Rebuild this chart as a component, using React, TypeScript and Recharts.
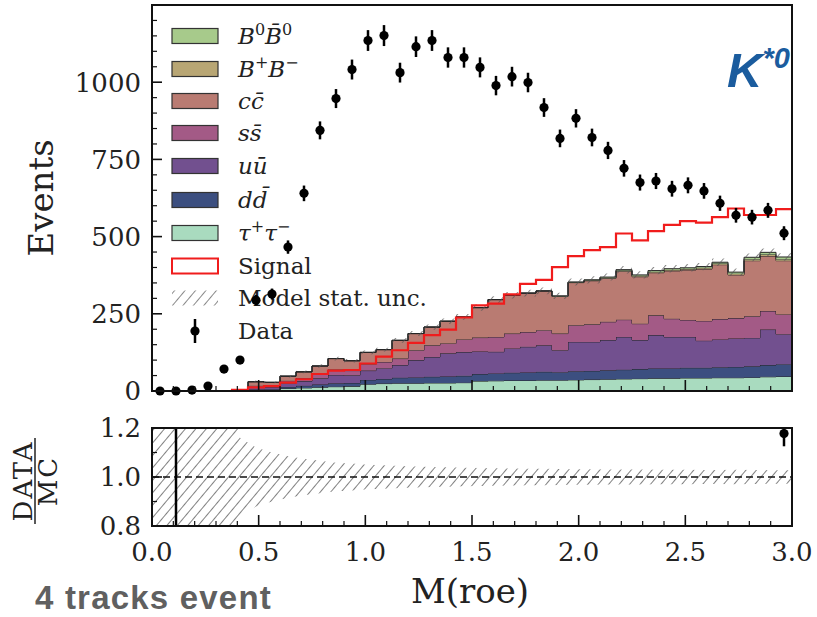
import React from 'react'
import { ComposedChart, Area, Line, Scatter, ErrorBar, XAxis, YAxis, ReferenceLine } from 'recharts'

// 40 bins of 0.075 in M(roe), 0 to 3
const binWidth = 0.075
const nBins = 40

const observed = [
  0, 0, 3, 16, 71, 100, 294, 314, 466, 640,
  844, 947, 1041, 1135, 1151, 1031, 1115, 1135, 1080, 1080,
  1048, 989, 1018, 999, 918, 818, 883, 821, 779, 721,
  675, 680, 655, 666, 648, 608, 569, 563, 585, 511,
]

// MC components, bottom of the stack first
const tauTau = [
  0, 0, 0, 0, 0, 0, 2, 3, 8, 10,
  12, 14, 15, 22, 24, 25, 25, 26, 26, 27,
  32, 33, 34, 34, 35, 35, 36, 37, 38, 39,
  40, 41, 41, 42, 42, 43, 43, 44, 46, 47,
]
const dDbar = [
  0, 0, 0, 0, 0, 0.5, 3, 3, 5, 7,
  9, 11, 11, 14, 15, 18, 19, 20, 21, 22,
  23, 24, 25, 26, 27, 26, 28, 28, 29, 30,
  31, 32, 32, 33, 33, 34, 35, 36, 38, 40,
]
const uUbar = [
  0, 0, 0, 0, 0, 1, 7, 7, 12, 15,
  20, 27, 25, 30, 35, 41, 56, 64, 75, 77,
  73, 70, 79, 83, 86, 71, 95, 94, 98, 106,
  94, 108, 102, 100, 88, 90, 92, 92, 115, 97,
]
const sSbar = [
  0, 0, 0, 0, 0, 0.5, 5, 4, 8, 10,
  13, 18, 15, 20, 20, 21, 32, 38, 32, 41,
  45, 48, 48, 48, 49, 54, 54, 57, 59, 56,
  53, 64, 59, 55, 64, 66, 66, 70, 60, 64,
]
const cCbar = [
  0, 0.3, 0, 0, 0, 1, 13, 11, 15, 20,
  27, 35, 32, 39, 40, 59, 54, 59, 72, 73,
  97, 121, 124, 126, 127, 120, 138, 141, 141, 157,
  152, 138, 155, 162, 168, 176, 140, 180, 178, 174,
]
const bCharged = [
  0, 0, 0, 0, 0, 0, 0, 0, 0, 0,
  0, 0, 0, 0, 0, 0, 0, 0, 0, 0,
  0, 0, 0, 0, 0, 1, 1, 2, 2, 2,
  3, 3, 3, 3, 4, 4, 4, 5, 5, 5,
]
const bNeutral = [
  0, 0, 0, 0, 0, 0, 0, 0, 0, 0,
  0, 0, 0, 0, 0, 0, 0, 0, 0, 0,
  0, 0, 0, 0, 0, 1, 1, 1, 2, 3,
  3, 4, 4, 4, 4, 4, 5, 6, 7, 7,
]
const signal = [
  0, 0, 0, 0, 0, 4, 12, 16, 27, 38,
  55, 66, 68, 89, 111, 132, 156, 181, 199, 238,
  277, 283, 313, 347, 360, 401, 437, 456, 466, 510,
  488, 518, 538, 550, 545, 563, 591, 570, 570, 589,
]
// relative MC statistical uncertainty per bin (1 = unconstrained)
const relStatUnc = [
  1, 1, 1, 1, 1, 0.16, 0.12, 0.1, 0.085, 0.074,
  0.066, 0.058, 0.055, 0.05, 0.048, 0.045, 0.043, 0.041, 0.04, 0.038,
  0.037, 0.036, 0.035, 0.034, 0.034, 0.033, 0.032, 0.032, 0.031, 0.031,
  0.031, 0.03, 0.03, 0.03, 0.029, 0.029, 0.03, 0.029, 0.028, 0.028,
]

const yTicksTop = Array.from({ length: 26 }, (_, i) => i * 50)
const xTicks = Array.from({ length: 31 }, (_, i) => i / 10)
const yTicksRatio = [0.8, 0.9, 1.0, 1.1, 1.2]
const ratioRange = [0.8, 1.2]

const components = [
  { key: 'tau', name: 'τ+τ−', values: tauTau, color: '#a9dbbf' },
  { key: 'dd', name: 'dd̄', values: dDbar, color: '#3c4f80' },
  { key: 'uu', name: 'uū', values: uUbar, color: '#72508f' },
  { key: 'ss', name: 'ss̄', values: sSbar, color: '#a35a86' },
  { key: 'cc', name: 'cc̄', values: cCbar, color: '#b97b72' },
  { key: 'bp', name: 'B+B−', values: bCharged, color: '#b8a674' },
  { key: 'b0', name: 'B0B̄0', values: bNeutral, color: '#a7ca8b' },
]

const mcTotal = observed.map((_, i) => components.reduce((s, c) => s + c.values[i], 0))
const centers = observed.map((_, i) => (i + 0.5) * binWidth)

// one row per bin edge; the last edge repeats the last bin for stepAfter
const histRows = Array.from({ length: nBins + 1 }, (_, k) => {
  const i = Math.min(k, nBins - 1)
  const row: Record<string, any> = { x: k * binWidth, signal: signal[i] }
  components.forEach((c) => { row[c.key] = c.values[i] })
  row.band = [mcTotal[i] * (1 - relStatUnc[i]), mcTotal[i] * (1 + relStatUnc[i])]
  return row
})

const dataPts = observed.map((n, i) => ({
  x: centers[i],
  y: n,
  err: [Math.sqrt(n), n > 0 ? Math.sqrt(n) : 1],
}))

const ratioRows = [0, ...centers, nBins * binWidth].map((x, k) => {
  const i = Math.max(0, Math.min(nBins - 1, k - 1))
  return { x, band: [1 - relStatUnc[i], 1 + relStatUnc[i]] }
})

// data/MC, with the error bars cut to the visible ratio range
const ratioVals = observed.flatMap((n, i) => {
  const t = mcTotal[i]
  if (!(t > 0)) return []
  const r = n / t
  const lo = Math.max(r - Math.sqrt(n) / t, ratioRange[0])
  const hi = Math.min(r + (n > 0 ? Math.sqrt(n) : 1) / t, ratioRange[1])
  if (lo > hi) return []
  return [{ x: centers[i], r, lo, hi }]
})
const ratioBars = ratioVals.map((p) => ({ x: p.x, mid: (p.lo + p.hi) / 2, err: (p.hi - p.lo) / 2 }))
const ratioDots = ratioVals.filter((p) => p.r >= ratioRange[0] && p.r <= ratioRange[1])

const SERIF = 'DejaVu Serif'
const near = (a: number, b: number) => Math.abs(a - b) < 1e-6

const makeYTick = (isMajor: (v: number) => boolean, hasLabel: (v: number) => boolean, fmt: (v: number) => string) => (props: any) => {
  const { x, y, payload } = props
  const v = payload.value
  const major = isMajor(v)
  return (
    <g>
      <line x1={x} x2={x + (major ? 10 : 5)} y1={y} y2={y} stroke="#111" strokeWidth={major ? 1.6 : 1.2} />
      {hasLabel(v) && (
        <text x={x - 11} y={y} dy="0.36em" textAnchor="end" fontSize={26} fontFamily={SERIF} fill="#222">
          {fmt(v)}
        </text>
      )}
    </g>
  )
}

const makeXTick = (showLabels: boolean) => (props: any) => {
  const { x, y, payload } = props
  const v = payload.value
  const major = near(v * 2, Math.round(v * 2))
  return (
    <g>
      <line x1={x} x2={x} y1={y} y2={y - (major ? 11 : 5)} stroke="#111" strokeWidth={major ? 1.6 : 1.2} />
      {showLabels && major && (
        <text x={x} y={y + 35} textAnchor="middle" fontSize={26} fontFamily={SERIF} fill="#222">
          {v.toFixed(1)}
        </text>
      )}
    </g>
  )
}

const dot = (p: any) => <circle cx={p.cx} cy={p.cy} r={4.6} fill="#000" />
const noDot = () => <g />

const Hatch = ({ id, color }: { id: string; color: string }) => (
  <pattern id={id} width="8" height="8" patternUnits="userSpaceOnUse" patternTransform="rotate(40)">
    <line x1="0" y1="0" x2="0" y2="8" stroke={color} strokeWidth="1.4" />
  </pattern>
)

const legendY = [36, 69, 101, 133, 166, 200, 233, 266, 298, 331]

const sup = (s: string) => (
  <tspan fontSize={16} dy={-9} fontStyle="normal">{s}</tspan>
)

const Legend = () => {
  const swatches = [...components].reverse()
  const labels = [
    <>
      <tspan fontStyle="italic">B</tspan>{sup('0')}<tspan fontStyle="italic" dy={9}>B̄</tspan>{sup('0')}
    </>,
    <>
      <tspan fontStyle="italic">B</tspan>{sup('+')}<tspan fontStyle="italic" dy={9}>B</tspan>{sup('−')}
    </>,
    <tspan fontStyle="italic">cc̄</tspan>,
    <tspan fontStyle="italic">ss̄</tspan>,
    <tspan fontStyle="italic">uū</tspan>,
    <tspan fontStyle="italic">dd̄</tspan>,
    <>
      <tspan fontStyle="italic">τ</tspan>{sup('+')}<tspan fontStyle="italic" dy={9}>τ</tspan>{sup('−')}
    </>,
  ]
  return (
    <svg width={817} height={400} style={{ position: 'absolute', left: 0, top: 0 }}>
      <defs>
        <Hatch id="hatchLegend" color="#555" />
      </defs>
      {swatches.map((c, i) => (
        <g key={c.key}>
          <rect x={172} y={legendY[i] - 7.5} width={46} height={15} fill={c.color} stroke="#333" strokeWidth={1.2} />
          <text x={238} y={legendY[i] + 8} fontSize={23} fontFamily={SERIF} fill="#222">{labels[i]}</text>
        </g>
      ))}
      <rect x={172} y={legendY[7] - 7.5} width={46} height={15} fill="#fff" stroke="#f01c1c" strokeWidth={2} />
      <text x={238} y={legendY[7] + 8} fontSize={23} fontFamily={SERIF} fill="#222">Signal</text>
      <rect x={172} y={legendY[8] - 7.5} width={46} height={15} fill="url(#hatchLegend)" />
      <text x={238} y={legendY[8] + 8} fontSize={23} fontFamily={SERIF} fill="#222">Model stat. unc.</text>
      <line x1={195} x2={195} y1={legendY[9] - 12} y2={legendY[9] + 12} stroke="#000" strokeWidth={2.5} />
      <circle cx={195} cy={legendY[9]} r={4.6} fill="#000" />
      <text x={238} y={legendY[9] + 8} fontSize={23} fontFamily={SERIF} fill="#222">Data</text>
    </svg>
  )
}

const MainPanel = () => (
  <ComposedChart width={817} height={412} data={histRows} margin={{ top: 5, right: 25, bottom: 0, left: 0 }}>
    <defs>
      <Hatch id="hatchTop" color="#555" />
    </defs>
    {components.map((c) => (
      <Area
        key={c.key}
        dataKey={c.key}
        name={c.name}
        stackId="mc"
        type="stepAfter"
        fill={c.color}
        fillOpacity={1}
        stroke="#262626"
        strokeWidth={1}
        isAnimationActive={false}
      />
    ))}
    <Area dataKey="band" type="stepAfter" fill="url(#hatchTop)" fillOpacity={1} stroke="none" isAnimationActive={false} />
    <Line dataKey="signal" type="stepAfter" stroke="#f01c1c" strokeWidth={2.2} dot={false} isAnimationActive={false} />
    <Scatter data={dataPts} dataKey="y" shape={dot} isAnimationActive={false}>
      <ErrorBar dataKey="err" direction="y" width={0} stroke="#000" strokeWidth={2.5} />
    </Scatter>
    <XAxis
      dataKey="x"
      type="number"
      domain={[0, 3]}
      ticks={xTicks}
      interval={0}
      height={21}
      tickSize={0}
      tickMargin={0}
      tickLine={false}
      axisLine={false}
      tick={makeXTick(false)}
    />
    <YAxis
      type="number"
      domain={[0, 1250]}
      ticks={yTicksTop}
      interval={0}
      width={152}
      tickSize={0}
      tickMargin={0}
      tickLine={false}
      axisLine={false}
      tick={makeYTick((v) => v % 250 === 0, (v) => v % 250 === 0 && v <= 1000, (v) => String(v))}
    />
  </ComposedChart>
)

const isRatioMajor = (v: number) => near(v, 0.8) || near(v, 1.0) || near(v, 1.2)

const RatioPanel = () => (
  <ComposedChart width={817} height={217} data={ratioRows} margin={{ top: 28, right: 25, bottom: 0, left: 0 }}>
    <defs>
      <Hatch id="hatchRatio" color="#4a4a4a" />
    </defs>
    <Area dataKey="band" type="linear" fill="url(#hatchRatio)" fillOpacity={1} stroke="none" isAnimationActive={false} />
    <ReferenceLine y={1} stroke="#111" strokeWidth={1.5} strokeDasharray="7 4" />
    <Scatter data={ratioBars} dataKey="mid" shape={noDot} isAnimationActive={false}>
      <ErrorBar dataKey="err" direction="y" width={0} stroke="#000" strokeWidth={2.5} />
    </Scatter>
    <Scatter data={ratioDots} dataKey="r" shape={dot} isAnimationActive={false} />
    <XAxis
      dataKey="x"
      type="number"
      domain={[0, 3]}
      ticks={xTicks}
      interval={0}
      height={91}
      tickSize={0}
      tickMargin={0}
      tickLine={false}
      axisLine={false}
      tick={makeXTick(true)}
    />
    <YAxis
      type="number"
      domain={ratioRange}
      allowDataOverflow
      ticks={yTicksRatio}
      interval={0}
      width={152}
      tickSize={0}
      tickMargin={0}
      tickLine={false}
      axisLine={false}
      tick={makeYTick(isRatioMajor, isRatioMajor, (v) => v.toFixed(1))}
    />
  </ComposedChart>
)

const Annotations = () => (
  <svg width={817} height={617} style={{ position: 'absolute', left: 0, top: 0, pointerEvents: 'none' }}>
    <rect x={152} y={5} width={640} height={386} fill="none" stroke="#111" strokeWidth={2} />
    <rect x={152} y={428} width={640} height={98} fill="none" stroke="#111" strokeWidth={2} />
    <text transform="translate(53,198) rotate(-90)" textAnchor="middle" fontSize={34} fontFamily={SERIF} fill="#222">
      Events
    </text>
    <g transform="translate(35,481) rotate(-90)">
      <text x={0} y={-3} textAnchor="middle" fontSize={26} letterSpacing={2} fontFamily={SERIF} fill="#222">DATA</text>
      <line x1={-43} x2={43} y1={0} y2={0} stroke="#222" strokeWidth={1.5} />
      <text x={0} y={22} textAnchor="middle" fontSize={26} letterSpacing={2} fontFamily={SERIF} fill="#222">MC</text>
    </g>
    <text x={470} y={603} textAnchor="middle" fontSize={34} fontFamily={SERIF} fill="#222">M(roe)</text>
    <text x={727} y={87} fontSize={49} fontWeight="bold" fontStyle="italic" fontFamily="Liberation Sans" fill="#1b5c9e">
      K<tspan fontSize={29} dy={-19}>*0</tspan>
    </text>
    <text x={35} y={609} fontSize={33} letterSpacing={1.2} fontWeight="bold" fontFamily="Liberation Sans" fill="#606060">
      4 tracks event
    </text>
  </svg>
)

export default function App() {
  return (
    <div style={{ position: 'absolute', left: 0, top: 0, width: 817, height: 617, background: '#fff', overflow: 'hidden' }}>
      <Legend />
      <div style={{ position: 'absolute', left: 0, top: 0 }}>
        <MainPanel />
      </div>
      <div style={{ position: 'absolute', left: 0, top: 400 }}>
        <RatioPanel />
      </div>
      <Annotations />
    </div>
  )
}
